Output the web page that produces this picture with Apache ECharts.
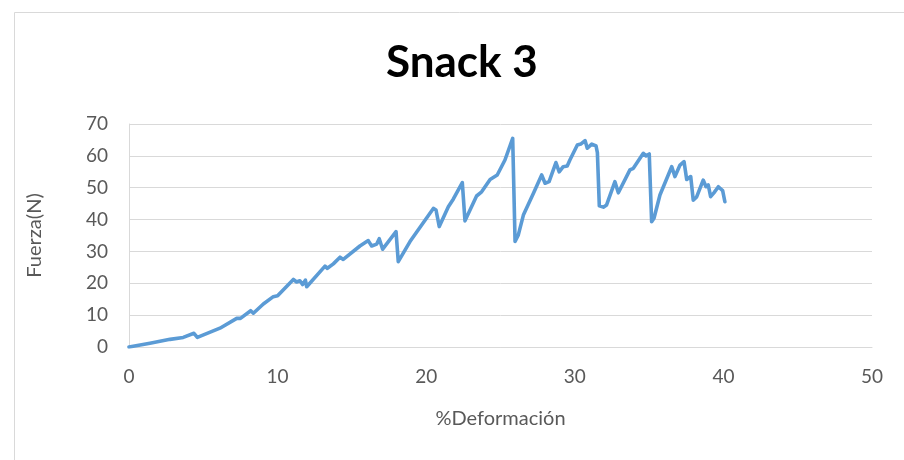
<!DOCTYPE html>
<html>
<head>
<meta charset="utf-8">
<script src="https://cdn.jsdelivr.net/npm/echarts@6/dist/echarts.min.js"></script>
<style>
  html, body { margin: 0; padding: 0; background: #fff; }
  #main { width: 904px; height: 460px; }
</style>
</head>
<body>
<div id="main"></div>
<script>
// values
const deformacion = [0, 1.41, 2.76, 3.65, 4.37, 4.6, 6.12, 7.25, 7.5, 8.19, 8.37, 9.04, 9.71, 10.0,
  11.06, 11.28, 11.5, 11.68, 11.87, 11.96, 13.19, 13.35, 13.75, 14.2, 14.42, 15.54, 16.1, 16.33,
  16.67, 16.84, 17.07, 17.97, 18.12, 18.91, 20.48, 20.66, 20.88, 21.49, 21.82, 22.43, 22.61, 23.39,
  23.73, 24.3, 24.78, 25.3, 25.82, 25.98, 26.2, 26.54, 27.21, 27.77, 28.0, 28.27, 28.73, 28.95,
  29.22, 29.49, 29.67, 30.17, 30.4, 30.5, 30.69, 30.84, 31.14, 31.43, 31.52, 31.65, 31.92, 32.14,
  32.7, 32.93, 33.71, 33.94, 34.61, 34.79, 35.01, 35.17, 35.33, 35.73, 36.52, 36.74, 37.08, 37.35,
  37.53, 37.8, 37.97, 38.2, 38.64, 38.83, 38.98, 39.14, 39.36, 39.66, 39.95, 40.1]
const fuerza = [0, 1.2, 2.4, 3.0, 4.3, 3.0, 5.9, 9.0, 9.0, 11.4, 10.6, 13.5, 15.8, 16.1,
  21.2, 20.4, 20.8, 19.6, 21.0, 18.9, 25.4, 24.7, 26.1, 28.2, 27.5, 31.7, 33.4, 31.7,
  32.3, 34.0, 30.7, 36.2, 26.8, 33.1, 43.5, 43.0, 37.8, 44.0, 46.4, 51.6, 39.6, 47.4,
  48.7, 52.6, 54.0, 58.7, 65.5, 33.1, 35.2, 41.4, 48.2, 54.0, 51.4, 51.9, 57.9, 55.0,
  56.6, 56.8, 58.7, 63.4, 63.7, 63.1, 64.8, 62.4, 63.7, 63.1, 61.0, 44.3, 43.9, 44.6,
  51.9, 48.4, 55.6, 56.1, 60.8, 60.0, 60.6, 39.3, 40.4, 47.7, 56.6, 53.5, 57.1, 58.2,
  52.6, 53.5, 46.1, 47.1, 52.4, 50.3, 50.9, 47.2, 48.4, 50.3, 49.1, 45.6]
const xTicks = [0, 10, 20, 30, 40, 50]
const yTicks = [0, 10, 20, 30, 40, 50, 60, 70]

const FONT = 'Lato'
const TXT = '#595959'
const GRIDC = '#d9d9d9'

const chart = echarts.init(document.getElementById('main'), null, { renderer: 'canvas' })
chart.setOption({
  animation: false,
  backgroundColor: '#fff',
  graphic: [{
    type: 'rect',
    shape: { x: 14.5, y: 12.5, width: 1000, height: 1000 },
    style: { fill: 'none', stroke: GRIDC, lineWidth: 1 },
    silent: true,
  }],
  title: {
    text: 'Snack 3',
    left: 381,
    top: 36,
    textStyle: { fontFamily: FONT, fontWeight: 'bold', fontSize: 44, color: '#000' },
  },
  grid: { left: 129, right: 32, top: 124, bottom: 113 },
  xAxis: {
    type: 'value',
    min: xTicks[0],
    max: xTicks[xTicks.length - 1],
    interval: 10,
    name: '%Deformación',
    nameLocation: 'middle',
    nameGap: 62,
    nameTextStyle: { fontFamily: FONT, fontSize: 20, color: TXT },
    axisLine: { show: true, lineStyle: { color: GRIDC, width: 1 } },
    axisTick: { show: false },
    splitLine: { show: false },
    axisLabel: { fontFamily: FONT, fontSize: 19, color: TXT, margin: 20 },
  },
  yAxis: {
    type: 'value',
    min: yTicks[0],
    max: yTicks[yTicks.length - 1],
    interval: 10,
    name: 'Fuerza(N)',
    nameLocation: 'middle',
    nameGap: 84,
    nameTextStyle: { fontFamily: FONT, fontSize: 20, color: TXT },
    axisLine: { show: true, lineStyle: { color: GRIDC, width: 1 } },
    axisTick: { show: false },
    splitLine: { show: true, lineStyle: { color: GRIDC, width: 1 } },
    axisLabel: { fontFamily: FONT, fontSize: 19, color: TXT, margin: 21 },
  },
  series: [{
    type: 'line',
    data: deformacion.map((d, i) => [d, fuerza[i]]),
    showSymbol: false,
    lineStyle: { color: '#5b9bd5', width: 3.6, join: 'round', cap: 'round' },
    itemStyle: { color: '#5b9bd5' },
  }],
})
</script>
</body>
</html>
